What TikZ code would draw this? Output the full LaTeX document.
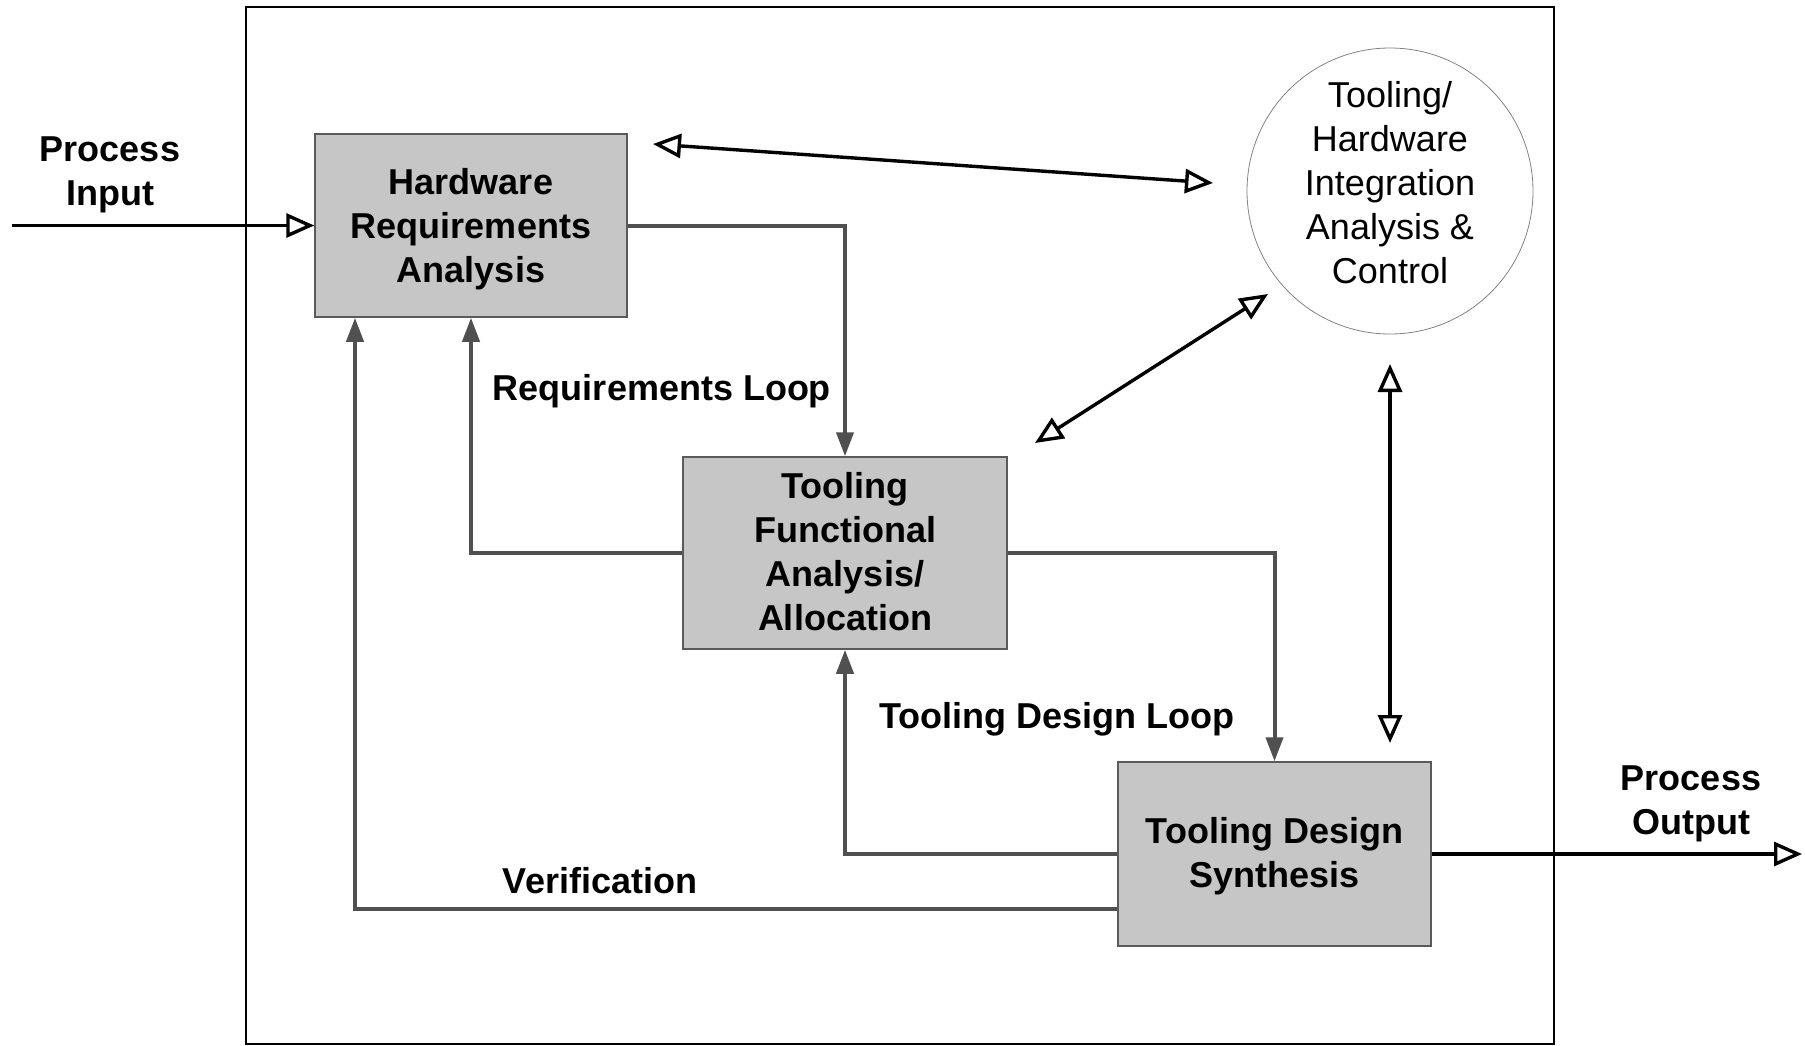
\documentclass[tikz,border=0pt]{standalone}
\usepackage{fontspec}
\setmainfont{Liberation Sans}
\usetikzlibrary{arrows.meta}
\definecolor{boxfill}{RGB}{198,198,198}
\definecolor{boxline}{RGB}{90,90,90}
\definecolor{loopline}{RGB}{80,80,80}
\definecolor{ringline}{RGB}{130,130,130}
\tikzset{
  procbox/.style={draw=boxline, line width=1.5pt, fill=boxfill, align=center,
    inner sep=0pt, font=\fontsize{36}{44}\selectfont\bfseries},
  lbl/.style={align=center, inner sep=0pt, font=\fontsize{36}{44}\selectfont\bfseries},
  loopconn/.style={draw=loopline, line width=4pt,
    -{Triangle[length=24pt,width=17pt,fill=loopline]}},
  flowconn/.style={draw=black, line width=3.4pt,
    -{Triangle[open,length=28pt,width=24pt,fill=white]}},
  linkconn/.style={draw=black, line width=3.4pt,
    {Triangle[open,length=28pt,width=24pt,fill=white]}-{Triangle[open,length=28pt,width=24pt,fill=white]}}
}
\begin{document}
\begin{tikzpicture}[x=1pt,y=-1pt]
\useasboundingbox (0,0) rectangle (1805,1045);
% system boundary
\draw[line width=2pt] (246,7) rectangle (1554,1044);

% process blocks
\node[procbox, minimum width=312pt, minimum height=183pt] (hra) at (471,225.5) {};
\node[lbl] (hratxt) at (471,229) {Hardware\\Requirements\\Analysis};
\node[procbox, minimum width=324pt, minimum height=192pt] (tfa) at (845,553) {};
\node[lbl] (tfatxt) at (845,552) {Tooling\\Functional\\Analysis/\\Allocation};
\node[procbox, minimum width=313pt, minimum height=184pt] (tds) at (1274.5,854) {};
\node[lbl] (tdstxt) at (1274.5,856.5) {Tooling Design\\Synthesis};

% integration control
\node[circle, draw=ringline, line width=0.8pt, minimum size=286pt, inner sep=0pt] (hic) at (1390,191) {};
\node[align=center, inner sep=0pt, font=\fontsize{36}{44}\selectfont] (hictxt) at (1390,183)
  {Tooling/\\Hardware\\Integration\\Analysis \&\\Control};

% external labels
\node[lbl] (pin) at (110,175) {Process\\Input};
\node[lbl] (pout) at (1691,804) {Process\\Output};
\node[lbl] (rloop) at (662,391.5) {Requirements Loop};
\node[lbl] (tloop) at (1057,719.5) {Tooling Design Loop};
\node[lbl] (verif) at (600,881) {Verification};

% loop connectors
\draw[loopconn] (hra.east) -| (tfa.north);
\draw[loopconn] (tfa.west) -| (hra.south);
\draw[loopconn] (tfa.east) -| (tds.north);
\draw[loopconn] (tds.west) -| (tfa.south);
\draw[loopconn] ([yshift=-55pt]tds.west) -| ([xshift=-116pt]hra.south);

% process input / output
\coordinate (inA) at (12,225.5);
\coordinate (outB) at (1802,854);
\draw[flowconn] (inA) -- (hra.west);
\draw[flowconn] (tds.east) -- (outB);

% links with the integration control
\coordinate (l1a) at (653,144);
\coordinate (l1b) at (1213,183);
\coordinate (l2a) at (1035,443);
\coordinate (l2b) at (1268,294);
\coordinate (l3a) at (1390,364);
\coordinate (l3b) at (1390,743);
\draw[linkconn] (l1a) -- (l1b);
\draw[linkconn] (l2a) -- (l2b);
\draw[linkconn] (l3a) -- (l3b);
\end{tikzpicture}
\end{document}
